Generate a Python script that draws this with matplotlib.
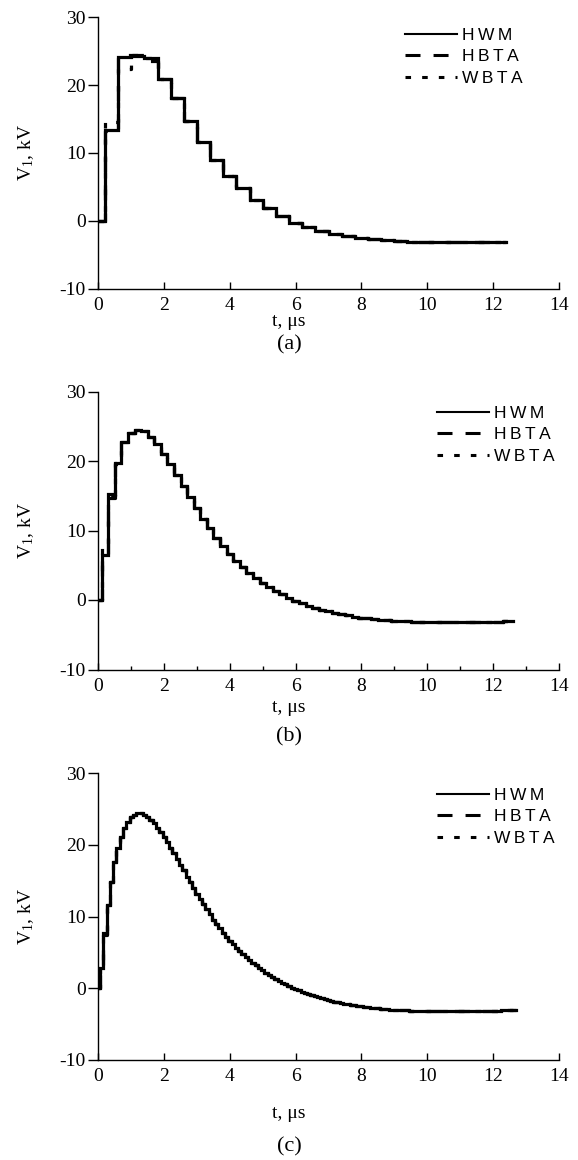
# Voltage V1 staircases for three time steps, (a) 0.4 us, (b) 0.2 us, (c) 0.1 us
import numpy as np
import matplotlib
matplotlib.use('Agg')
import matplotlib.pyplot as plt
from matplotlib.lines import Line2D

plt.rcParams['font.family'] = ['Liberation Serif', 'DejaVu Serif']
plt.rcParams['mathtext.fontset'] = 'custom'
plt.rcParams['mathtext.rm'] = 'Liberation Serif'
plt.rcParams['mathtext.it'] = 'Liberation Serif:italic'
plt.rcParams['axes.unicode_minus'] = False
plt.rcParams['lines.scale_dashes'] = False

# sampling steps (us)
dt_a = 0.4
dt_b = 0.2
dt_c = 0.1

# panel (a): samples at 0, 0.4, ..., 12.4 us (kV)
hwm_a = [0, 13.4, 24.1, 24.3, 24.0, 20.85, 18.05, 14.7, 11.65, 8.95,
         6.65, 4.78, 3.05, 1.83, 0.74, -0.3, -0.97, -1.57, -1.96, -2.26,
         -2.55, -2.75, -2.9, -3.0, -3.1, -3.15, -3.2, -3.2, -3.2, -3.18,
         -3.15, -3.1]
hbta_a = [0, 13.2, 24.4, 24.4, 23.6, 20.85, 18.05, 14.7, 11.65, 8.95,
          6.65, 4.78, 3.05, 1.83, 0.74, -0.3, -0.97, -1.57, -1.96, -2.26,
          -2.55, -2.75, -2.9, -3.0, -3.1, -3.15, -3.2, -3.2, -3.2, -3.18,
          -3.15, -3.1]
wbta_a = [0, 14.6, 22.4, 24.5, 24.0, 20.9, 18.05, 14.7, 11.65, 8.95,
          6.65, 4.78, 3.05, 1.83, 0.74, -0.3, -0.97, -1.57, -1.96, -2.26,
          -2.55, -2.75, -2.9, -3.0, -3.1, -3.15, -3.2, -3.2, -3.2, -3.18,
          -3.15, -3.1]

# panel (b): samples at 0, 0.2, ..., 12.6 us
hwm_b = [0, 6.5, 15.3, 19.7, 22.7, 24.1, 24.5, 24.3, 23.5, 22.4,
         21.05, 19.6, 18.05, 16.45, 14.8, 13.2, 11.7, 10.3, 8.95, 7.75,
         6.65, 5.65, 4.78, 3.95, 3.2, 2.5, 1.9, 1.32, 0.8, 0.32,
         -0.1, -0.46, -0.8, -1.1, -1.37, -1.62, -1.84, -2.04, -2.22, -2.38,
         -2.52, -2.64, -2.75, -2.84, -2.92, -2.99, -3.05, -3.09, -3.13, -3.16,
         -3.18, -3.2, -3.21, -3.21, -3.21, -3.2, -3.19, -3.18, -3.16, -3.14,
         -3.12, -3.1, -3.08, -3.06]
hbta_b = [0, 6.5, 14.7, 19.7, 22.7, 24.1, 24.5, 24.3, 23.5, 22.4,
          21.05, 19.6, 18.05, 16.45, 14.8, 13.2, 11.7, 10.3, 8.95, 7.75,
          6.65, 5.65, 4.78, 3.95, 3.2, 2.5, 1.9, 1.32, 0.8, 0.32,
          -0.1, -0.46, -0.8, -1.1, -1.37, -1.62, -1.84, -2.04, -2.22, -2.38,
          -2.52, -2.64, -2.75, -2.84, -2.92, -2.99, -3.05, -3.09, -3.13, -3.16,
          -3.18, -3.2, -3.21, -3.21, -3.21, -3.2, -3.19, -3.18, -3.16, -3.14,
          -3.12, -3.1, -3.08, -3.06]
wbta_b = [0, 7.8, 15.0, 19.6, 22.7, 24.1, 24.5, 24.3, 23.5, 22.4,
          21.05, 19.6, 18.05, 16.45, 14.8, 13.2, 11.7, 10.3, 8.95, 7.75,
          6.65, 5.65, 4.78, 3.95, 3.2, 2.5, 1.9, 1.32, 0.8, 0.32,
          -0.1, -0.46, -0.8, -1.1, -1.37, -1.62, -1.84, -2.04, -2.22, -2.38,
          -2.52, -2.64, -2.75, -2.84, -2.92, -2.99, -3.05, -3.09, -3.13, -3.16,
          -3.18, -3.2, -3.21, -3.21, -3.21, -3.2, -3.19, -3.18, -3.16, -3.14,
          -3.12, -3.1, -3.08, -3.06]

# panel (c): samples at 0, 0.1, ..., 12.7 us
hwm_c = [0, 2.8, 7.7, 11.6, 14.9, 17.6, 19.6, 21.1, 22.3, 23.2,
         23.85, 24.25, 24.45, 24.4, 24.2, 23.9, 23.5, 23.0, 22.4, 21.75,
         21.05, 20.35, 19.6, 18.85, 18.05, 17.25, 16.45, 15.6, 14.8, 14.0,
         13.2, 12.45, 11.7, 11.0, 10.3, 9.6, 8.95, 8.35, 7.75, 7.2,
         6.65, 6.15, 5.65, 5.2, 4.78, 4.35, 3.95, 3.55, 3.2, 2.85,
         2.5, 2.2, 1.9, 1.6, 1.32, 1.05, 0.8, 0.55, 0.32, 0.1,
         -0.1, -0.28, -0.46, -0.63, -0.8, -0.95, -1.1, -1.24, -1.37, -1.5,
         -1.62, -1.73, -1.84, -1.94, -2.04, -2.13, -2.22, -2.3, -2.38, -2.45,
         -2.52, -2.58, -2.64, -2.7, -2.75, -2.8, -2.84, -2.88, -2.92, -2.96,
         -2.99, -3.02, -3.05, -3.07, -3.09, -3.11, -3.13, -3.15, -3.16, -3.17,
         -3.18, -3.19, -3.2, -3.2, -3.21, -3.21, -3.21, -3.21, -3.21, -3.2,
         -3.2, -3.2, -3.19, -3.19, -3.18, -3.17, -3.16, -3.15, -3.14, -3.13,
         -3.12, -3.11, -3.1, -3.09, -3.08, -3.07, -3.06, -3.05]
hbta_c = [0, 2.6, 7.5, 11.6, 14.9, 17.6, 19.6, 21.1, 22.3, 23.2,
          23.85, 24.25, 24.45, 24.4, 24.2, 23.9, 23.5, 23.0, 22.4, 21.75,
          21.05, 20.35, 19.6, 18.85, 18.05, 17.25, 16.45, 15.6, 14.8, 14.0,
          13.2, 12.45, 11.7, 11.0, 10.3, 9.6, 8.95, 8.35, 7.75, 7.2,
          6.65, 6.15, 5.65, 5.2, 4.78, 4.35, 3.95, 3.55, 3.2, 2.85,
          2.5, 2.2, 1.9, 1.6, 1.32, 1.05, 0.8, 0.55, 0.32, 0.1,
          -0.1, -0.28, -0.46, -0.63, -0.8, -0.95, -1.1, -1.24, -1.37, -1.5,
          -1.62, -1.73, -1.84, -1.94, -2.04, -2.13, -2.22, -2.3, -2.38, -2.45,
          -2.52, -2.58, -2.64, -2.7, -2.75, -2.8, -2.84, -2.88, -2.92, -2.96,
          -2.99, -3.02, -3.05, -3.07, -3.09, -3.11, -3.13, -3.15, -3.16, -3.17,
          -3.18, -3.19, -3.2, -3.2, -3.21, -3.21, -3.21, -3.21, -3.21, -3.2,
          -3.2, -3.2, -3.19, -3.19, -3.18, -3.17, -3.16, -3.15, -3.14, -3.13,
          -3.12, -3.11, -3.1, -3.09, -3.08, -3.07, -3.06, -3.05]
wbta_c = [0, 3.0, 7.9, 11.7, 14.9, 17.6, 19.6, 21.1, 22.3, 23.2,
          23.85, 24.25, 24.45, 24.4, 24.2, 23.9, 23.5, 23.0, 22.4, 21.75,
          21.05, 20.35, 19.6, 18.85, 18.05, 17.25, 16.45, 15.6, 14.8, 14.0,
          13.2, 12.45, 11.7, 11.0, 10.3, 9.6, 8.95, 8.35, 7.75, 7.2,
          6.65, 6.15, 5.65, 5.2, 4.78, 4.35, 3.95, 3.55, 3.2, 2.85,
          2.5, 2.2, 1.9, 1.6, 1.32, 1.05, 0.8, 0.55, 0.32, 0.1,
          -0.1, -0.28, -0.46, -0.63, -0.8, -0.95, -1.1, -1.24, -1.37, -1.5,
          -1.62, -1.73, -1.84, -1.94, -2.04, -2.13, -2.22, -2.3, -2.38, -2.45,
          -2.52, -2.58, -2.64, -2.7, -2.75, -2.8, -2.84, -2.88, -2.92, -2.96,
          -2.99, -3.02, -3.05, -3.07, -3.09, -3.11, -3.13, -3.15, -3.16, -3.17,
          -3.18, -3.19, -3.2, -3.2, -3.21, -3.21, -3.21, -3.21, -3.21, -3.2,
          -3.2, -3.2, -3.19, -3.19, -3.18, -3.17, -3.16, -3.15, -3.14, -3.13,
          -3.12, -3.11, -3.1, -3.09, -3.08, -3.07, -3.06, -3.05]

series_labels = ['H\u2009W\u2009M', 'H\u2009B\u2009T\u2009A', 'W\u2009B\u2009T\u2009A']
x_ticks = [0, 2, 4, 6, 8, 10, 12, 14]
y_ticks = [-10, 0, 10, 20, 30]
panel_tags = ['(a)', '(b)', '(c)']

W, H = 578, 1160
fig = plt.figure(figsize=(W / 100, H / 100), dpi=100)

# pixel layout of each panel: top of axes, bottom of axes, legend x, legend top, xlabel y, tag y
layout = [
    (17.3, 288.5, 405, 28, 321, 345),
    (391.5, 669.5, 437, 406, 708, 737),
    (773.3, 1060.0, 437, 788, 1113, 1147),
]
data = [
    (dt_a, hwm_a, hbta_a, wbta_a, False),
    (dt_b, hwm_b, hbta_b, wbta_b, True),
    (dt_c, hwm_c, hbta_c, wbta_c, False),
]
left_px, right_px = 98.4, 558.7

styles = [
    dict(ls='-', lw=2.3),
    dict(ls=(0, (10.8, 9.4)), lw=2.3),
    dict(ls=(0, (4.0, 8.0)), lw=2.3),
]

for i, ((top, bot, lx, ly, xl_y, tag_y), (dt, hwm, hbta, wbta, minor)) in enumerate(zip(layout, data)):
    ax = fig.add_axes([left_px / W, 1 - bot / H, (right_px - left_px) / W, (bot - top) / H])
    for vals, st in zip([hwm, hbta, wbta], styles):
        t = np.arange(len(vals)) * dt
        ax.plot(t, vals, color='black', drawstyle='steps-mid',
                solid_joinstyle='miter', dash_capstyle='butt', **st)

    ax.set_xlim(0, 14)
    ax.set_ylim(-10, 30)
    ax.set_xticks(x_ticks)
    ax.set_xticklabels([str(v) for v in x_ticks])
    ax.set_yticks(y_ticks)
    ax.set_yticklabels([str(v) for v in y_ticks])
    if minor:
        ax.set_xticks([1, 3, 5, 7, 9, 11, 13], minor=True)
    for s in ['top', 'right']:
        ax.spines[s].set_visible(False)
    for s in ['left', 'bottom']:
        ax.spines[s].set_linewidth(1.0)
    ax.tick_params(axis='x', which='major', direction='in', length=5, width=1.0, pad=6, labelsize=14)
    ax.tick_params(axis='x', which='minor', direction='in', length=3, width=1.0)
    ax.tick_params(axis='y', which='major', direction='out', length=7, width=1.0, pad=2, labelsize=14)

    handles = [
        Line2D([], [], color='black', ls='-', lw=1.5),
        Line2D([], [], color='black', ls=(0, (10.8, 9.4)), lw=2.2),
        Line2D([], [], color='black', ls=(0, (4.0, 8.0)), lw=2.2),
    ]
    ax.legend(handles, series_labels, loc='upper left',
              bbox_to_anchor=(lx / W, 1 - ly / H), bbox_transform=fig.transFigure,
              frameon=False, borderpad=0, borderaxespad=0, handlelength=3.0,
              handletextpad=0.3, labelspacing=0.35,
              prop={'family': ['Liberation Sans', 'DejaVu Sans'], 'size': 12.5})

    fig.text(26 / W, 1 - (top + bot) / 2 / H, 'V$_1$, kV', rotation=90,
             ha='center', va='center', fontsize=14)
    fig.text(0.5, 1 - xl_y / H, 't, \u03bcs', ha='center', va='center', fontsize=14)
    fig.text(0.5, 1 - tag_y / H, panel_tags[i], ha='center', va='center', fontsize=16)

fig.savefig('out.png', dpi=100)
